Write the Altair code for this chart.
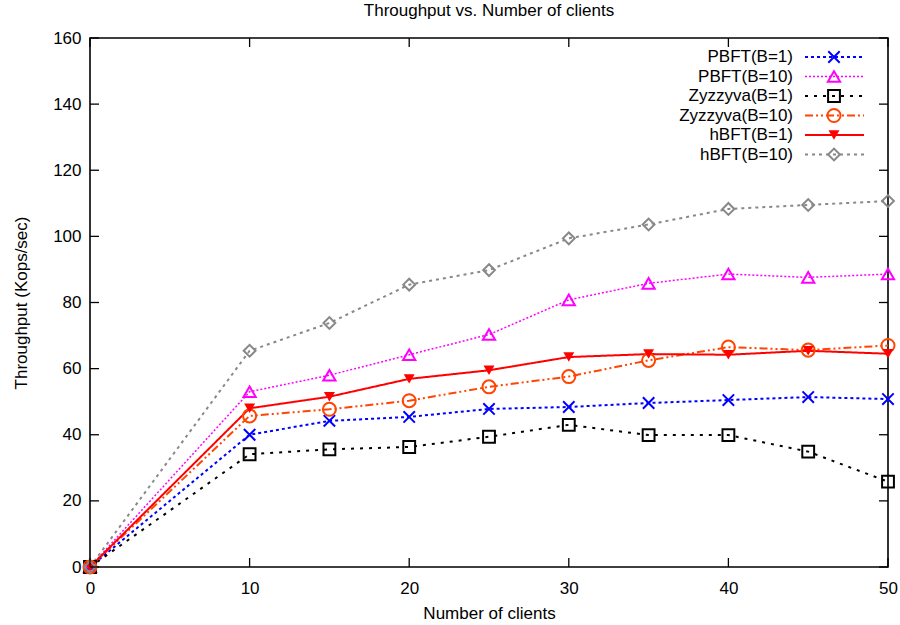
import altair as alt
import pandas as pd

clients = [0, 10, 15, 20, 25, 30, 35, 40, 45, 50]
pbft_b1 = [0, 40.0, 44.2, 45.4, 47.8, 48.4, 49.6, 50.5, 51.4, 50.8]
pbft_b10 = [0, 53.0, 58.0, 64.2, 70.3, 80.8, 85.8, 88.6, 87.6, 88.6]
zyz_b1 = [0, 34.1, 35.6, 36.3, 39.4, 43.0, 39.9, 39.9, 34.9, 25.8]
zyz_b10 = [0, 45.7, 47.7, 50.3, 54.5, 57.6, 62.5, 66.5, 65.6, 67.0]
hbft_b1 = [0, 48.0, 51.5, 56.9, 59.5, 63.5, 64.4, 64.2, 65.4, 64.5]
hbft_b10 = [0, 65.4, 73.8, 85.4, 89.8, 99.4, 103.6, 108.3, 109.5, 110.7]

series_names = ["PBFT(B=1)", "PBFT(B=10)", "Zyzzyva(B=1)", "Zyzzyva(B=10)", "hBFT(B=1)", "hBFT(B=10)"]
series_values = [pbft_b1, pbft_b10, zyz_b1, zyz_b10, hbft_b1, hbft_b10]

x_ticks = [0, 10, 20, 30, 40, 50]
y_ticks = [0, 20, 40, 60, 80, 100, 120, 140, 160]

XPATH = "M-1,-1L1,1M-1,1L1,-1"
styles = [
    dict(color="#0000ff", dash=[3, 3], width=2, shape=XPATH, filled=False, size=130),
    dict(color="#ff00ff", dash=[2, 2], width=1.5, shape="triangle-up", filled=False, size=150),
    dict(color="#000000", dash=[3, 6], width=2, shape="square", filled=False, size=140),
    dict(color="#ff4500", dash=[8, 3, 2, 3, 2, 3], width=2, shape="circle", filled=False, size=170),
    dict(color="#ff0000", dash=[1, 0], width=2, shape="triangle-down", filled=True, size=120),
    dict(color="#888888", dash=[3, 4], width=2, shape="diamond", filled=False, size=140),
]

rows = []
for name, vals in zip(series_names, series_values):
    for c, v in zip(clients, vals):
        rows.append({"series": name, "clients": c, "value": v})
df = pd.DataFrame(rows)

W, H = 798, 529
FS = 17
xscale = alt.Scale(domain=[0, 50], nice=False, zero=False)
yscale = alt.Scale(domain=[0, 160], nice=False)

base = alt.Chart(df)
layers = []

axes_layer = base.mark_point(opacity=0).encode(
    x=alt.X("clients:Q", scale=xscale,
            axis=alt.Axis(values=x_ticks, title="Number of clients", grid=False, ticks=False,
                          domain=False, labelPadding=13, labelFontSize=FS, titleFontSize=FS,
                          titleFontWeight="normal", titlePadding=9, labelColor="#000",
                          titleColor="#000", format="d", labelFlush=False)),
    y=alt.Y("value:Q", scale=yscale,
            axis=alt.Axis(values=y_ticks, title="Throughput (Kops/sec)", grid=False, ticks=False,
                          domain=False, labelPadding=9, labelFontSize=FS, titleFontSize=FS,
                          titleFontWeight="normal", titlePadding=22, labelColor="#000",
                          titleColor="#000", format="d", labelFlush=False)),
)
layers.append(axes_layer)

for name, st in zip(series_names, styles):
    sub = base.transform_filter(alt.datum.series == name)
    layers.append(sub.mark_line(color=st["color"], strokeDash=st["dash"], strokeWidth=st["width"]).encode(
        x=alt.X("clients:Q", scale=xscale), y=alt.Y("value:Q", scale=yscale)))
for name, st in zip(series_names, styles):
    sub = base.transform_filter(alt.datum.series == name)
    if st["filled"]:
        pm = sub.mark_point(shape=st["shape"], filled=True, color=st["color"], size=st["size"], opacity=1)
    else:
        pm = sub.mark_point(shape=st["shape"], filled=False, color=st["color"], size=st["size"],
                            strokeWidth=2, opacity=1)
    layers.append(pm.encode(x=alt.X("clients:Q", scale=xscale), y=alt.Y("value:Q", scale=yscale)))

# inward ticks (gnuplot style)
xt = alt.Chart(pd.DataFrame({"t": x_ticks}))
yt = alt.Chart(pd.DataFrame({"t": y_ticks}))
TL = 9
layers.append(xt.mark_rule(color="black", strokeWidth=1.3).encode(
    x=alt.X("t:Q", scale=xscale), y=alt.value(H), y2=alt.value(H - TL)))
layers.append(xt.mark_rule(color="black", strokeWidth=1.3).encode(
    x=alt.X("t:Q", scale=xscale), y=alt.value(0), y2=alt.value(TL)))
layers.append(yt.mark_rule(color="black", strokeWidth=1.3).encode(
    y=alt.Y("t:Q", scale=yscale), x=alt.value(0), x2=alt.value(TL)))
layers.append(yt.mark_rule(color="black", strokeWidth=1.3).encode(
    y=alt.Y("t:Q", scale=yscale), x=alt.value(W), x2=alt.value(W - TL)))

# custom legend (top-right, gnuplot style)
one = alt.Chart(pd.DataFrame({"k": [0]}))
for i, (name, st) in enumerate(zip(series_names, styles)):
    yy = 19 + 19.5 * i
    layers.append(one.mark_text(align="right", baseline="middle", fontSize=FS, color="black",
                                font="Liberation Sans").encode(
        x=alt.value(703), y=alt.value(yy), text=alt.value(name)))
    layers.append(one.mark_rule(color=st["color"], strokeDash=st["dash"], strokeWidth=st["width"]).encode(
        x=alt.value(715), x2=alt.value(774), y=alt.value(yy)))
    if st["filled"]:
        lp = one.mark_point(shape=st["shape"], filled=True, color=st["color"], size=st["size"], opacity=1)
    else:
        lp = one.mark_point(shape=st["shape"], filled=False, color=st["color"], size=st["size"],
                            strokeWidth=2, opacity=1)
    layers.append(lp.encode(x=alt.value(744), y=alt.value(yy)))

chart = alt.layer(*layers).properties(
    width=W, height=H,
    title=alt.TitleParams("Throughput vs. Number of clients", fontSize=FS, fontWeight="normal",
                          anchor="middle", offset=9, color="#000", font="Liberation Sans"),
    autosize=alt.AutoSizeParams(type="none"),
    padding={"left": 90, "top": 38, "right": 12, "bottom": 58},
).configure(font="Liberation Sans").configure_view(stroke="black", strokeWidth=1.6)

chart.save("out.html", embed_options={"renderer": "svg", "actions": False})
